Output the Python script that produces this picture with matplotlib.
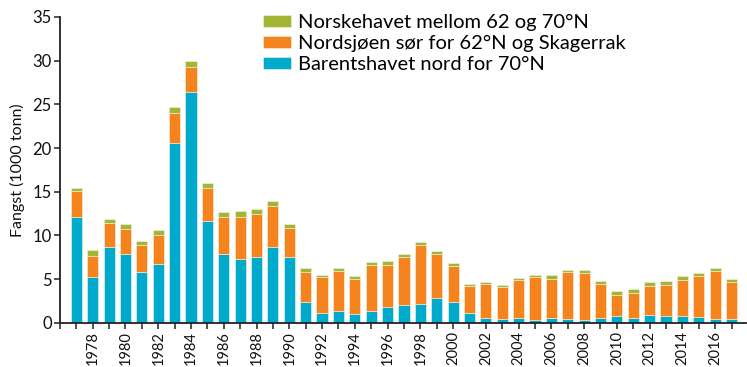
import numpy as np
import matplotlib
matplotlib.use("Agg")
import matplotlib.pyplot as plt

plt.rcParams['font.family'] = ['Lato', 'DejaVu Sans']

years = np.arange(1977, 2018)

# catch in 1000 tonnes per area
barents = [12.15, 5.27, 8.7, 7.84, 5.85, 6.73, 20.6, 26.4, 11.6, 7.9,
           7.27, 7.57, 8.68, 7.5, 2.41, 1.15, 1.38, 0.96, 1.38, 1.8,
           2.0, 2.14, 2.87, 2.37, 1.07, 0.54, 0.39, 0.57, 0.27, 0.57,
           0.39, 0.31, 0.54, 0.8, 0.57, 0.92, 0.8, 0.8, 0.65, 0.46, 0.42]
total_nordsjo = [15.1, 7.68, 11.47, 10.7, 8.9, 10.0, 24.0, 29.3, 15.4, 12.1,
                 12.1, 12.4, 13.4, 10.8, 5.85, 5.2, 5.96, 5.05, 6.65, 6.58,
                 7.5, 8.94, 7.91, 6.54, 4.17, 4.4, 4.06, 4.86, 5.24, 5.01,
                 5.85, 5.73, 4.47, 3.21, 3.37, 4.17, 4.32, 4.93, 5.39, 5.96, 4.7]
total_all = [15.4, 8.34, 11.9, 11.28, 9.4, 10.6, 24.7, 30.0, 16.05, 12.65,
             12.8, 13.04, 13.9, 11.3, 6.24, 5.47, 6.27, 5.36, 6.92, 7.04,
             7.88, 9.25, 8.22, 6.85, 4.47, 4.67, 4.29, 5.13, 5.44, 5.47,
             6.08, 6.08, 4.78, 3.64, 3.83, 4.67, 4.74, 5.32, 5.73, 6.27, 5.01]

barents = np.array(barents)
nordsjo = np.array(total_nordsjo) - barents
norskehavet = np.array(total_all) - np.array(total_nordsjo)

c_blue = '#00aacd'
c_orange = '#f5841f'
c_green = '#a3b532'

fig = plt.figure(figsize=(7.47, 3.67), dpi=100)
ax = fig.add_axes([0.0803, 0.1207, 0.9187, 0.833])

w = 0.68
kw = dict(width=w, edgecolor='#f4f4e4', linewidth=0.4)
b1 = ax.bar(years, barents, color=c_blue, **kw)
b2 = ax.bar(years, nordsjo, bottom=barents, color=c_orange, **kw)
b3 = ax.bar(years, norskehavet, bottom=barents + nordsjo, color=c_green, **kw)

ax.set_xlim(1976, 2017.9)
ax.set_ylim(0, 35)
ax.set_yticks(np.arange(0, 36, 5))
ax.set_xticks(np.arange(1976, 2018))
ax.set_xticklabels([str(y) if y % 2 == 0 and y > 1976 else '' for y in range(1976, 2018)],
                   rotation=90)

for s in ['top', 'right']:
    ax.spines[s].set_visible(False)
for s in ['left', 'bottom']:
    ax.spines[s].set_linewidth(1.3)
    ax.spines[s].set_color('#222222')
ax.tick_params(axis='both', direction='out', length=4, width=1.1,
               color='#222222', labelcolor='#111111')
ax.tick_params(axis='y', pad=2, labelsize=12)
ax.tick_params(axis='x', pad=2, labelsize=10.5)
ax.set_ylabel('Fangst (1000 tonn)', fontsize=11.5, color='#111111', labelpad=5)

fig.legend([b3, b2, b1],
           ['Norskehavet mellom 62 og 70°N',
            'Nordsjøen sør for 62°N og Skagerrak',
            'Barentshavet nord for 70°N'],
           loc='upper left', bbox_to_anchor=(0.33, 1.005), frameon=False,
           fontsize=14.5, handlelength=1.4, handleheight=0.55,
           handletextpad=0.35, labelspacing=0.2, borderpad=0.3)

fig.savefig('out.png', dpi=100)
